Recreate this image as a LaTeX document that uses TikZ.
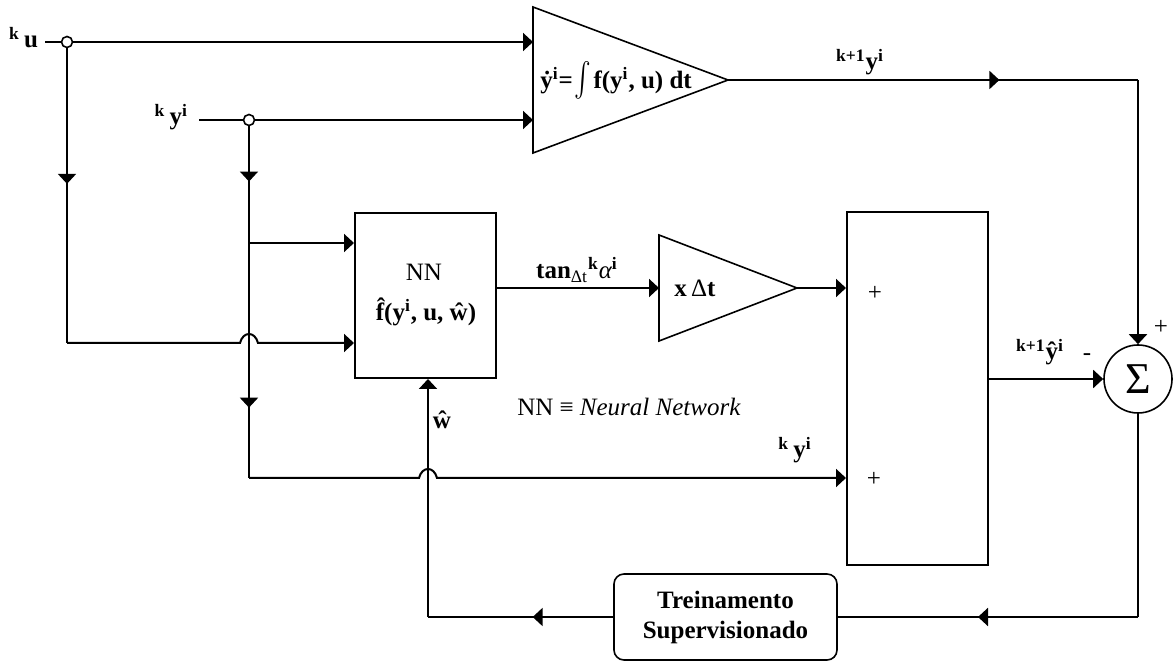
\documentclass[tikz,border=0pt]{standalone}
\usepackage{fontspec}
\usepackage{graphicx}
\setmainfont{Liberation Serif}
\usetikzlibrary{arrows.meta,decorations.markings,calc}
\newcommand\mysup[1]{\textsuperscript{#1}}
\begin{document}
\begin{tikzpicture}[x=0.5pt,y=-0.5pt,line width=1pt,
  >={Triangle[length=5pt,width=9pt]},
  every node/.style={font=\fontsize{12.5}{14}\selectfont, inner sep=0pt},
  lab/.style={font=\fontsize{12.5}{14}\selectfont\bfseries},
  junc/.style={circle, draw, fill=white, minimum size=5.5pt, inner sep=0pt, line width=0.8pt},
  blk/.style={draw, rectangle, inner sep=0pt},
  tri/.style={line width=0.8pt, line join=miter},
  midarr/.style={postaction={decorate,decoration={markings,mark=at position #1 with {\arrow{>}}}}}
]
\useasboundingbox (0,0) rectangle (1173,662);

% junctions and input labels
\node[junc] (cu) at (67,42) {};
\node[junc] (cy) at (249,120) {};
\node[lab, anchor=base east] (lu) at (39,48) {\mysup{k}\,u};
\node[lab, anchor=base east] (ly) at (189,125) {\mysup{k}\,y\mysup{i}};

% blocks
\node[blk, minimum width=70.5pt, minimum height=82.5pt] (NN) at (425.5,295.5) {};
\node[blk, minimum width=70.5pt, minimum height=176.5pt] (SB) at (917.5,388.5) {};
\node[circle, draw, line width=0.8pt, minimum size=34pt, inner sep=0pt] (S) at (1138,379) {\fontsize{22}{22}\selectfont Σ};
\node[draw, line width=0.8pt, rounded corners=5pt, minimum width=111.5pt, minimum height=43pt, align=center, font=\fontsize{12.5}{15}\selectfont\bfseries] (T) at (725.5,617) {Treinamento\\Supervisionado};

% triangles (gains)
\draw[tri] (533,7) -- (728,80) coordinate (ia) -- (533,153) -- cycle;
\draw[tri] (659,235) -- (797,288) coordinate (t2ap) -- (659,341) -- cycle;
\coordinate (i1) at (533,42);
\coordinate (i2) at (533,120);
\coordinate (t2in) at (659,288);

% texts
\node[lab] (fint) at (616,80) {\.{y}\mysup{i}=\kern1pt\raisebox{-1pt}{\scalebox{1.25}[1.7]{$\int$}}\kern1pt f(y\mysup{i}, u) dt};
\node[lab] (yk1) at (860,62) {\mysup{k+1}y\mysup{i}};
\node (nnt) at (424,272) {NN};
\node[lab] (fh) at (426,312) {\^{f}(y\mysup{i}, u, ŵ)};
\node[lab] (tanl) at (577,270) {tan\textsubscript{\normalfont Δt}\mysup{k}{\normalfont\itshape α}\mysup{i}};
\node[lab] (xdt) at (695,288) {x\,{\normalfont Δ}t};
\node (p1) at (875,293) {+};
\node (p2) at (874,479) {+};
\node[lab] (yh) at (1040,352) {\mysup{k+1}ŷ\mysup{i}};
\node (mi) at (1087,357) {-};
\node (p3) at (1161,327) {+};
\node (nnd) at (629,407) {NN ≡ \textit{Neural Network}};
\node[lab] (wh) at (442,420) {ŵ};
\node[lab] (ky2) at (795,450) {\mysup{k}\,y\mysup{i}};

% connectors: u
\draw[shorten <=3pt] (lu.east |- cu) -- (cu);
\draw[->] (cu) -- (i1);
\coordinate (uc) at (67,343);
\draw[midarr=0.46] (cu) -- (uc);
\draw[->] (uc) -- (240,343) .. controls (243,331) and (255,331) .. (258,343) -- (NN.west |- uc);

% connectors: y
\draw[shorten <=5pt] (ly.east |- cy) -- (cy);
\draw[->] (cy) -- (i2);
\coordinate (yb) at (249,243);
\coordinate (yc) at (249,478);
\draw[midarr=0.157, midarr=0.80] (cy) -- (yc);
\draw[->] (yb) -- (NN.west |- yb);
\draw[->] (yc) -- (419,478) .. controls (422,466) and (434,466) .. (437,478) -- (SB.west |- yc);

% integrator output
\coordinate (oc) at (1138,80);
\draw[midarr=0.662] (ia) -- (oc);
\draw[->] (oc) -- (S.north);

% NN path
\draw[->] (NN.east |- t2in) -- (t2in);
\draw[->] (t2ap) -- (SB.west |- t2ap);
\draw[->] (SB.east |- S) -- (S.west);

% feedback
\coordinate (bc) at (1138,617);
\draw (S.south) -- (bc);
\draw[midarr=0.533] (bc) -- (T.east);
\coordinate (wc) at (428,617);
\draw[midarr=0.435] (T.west) -- (wc);
\draw[->] (wc) -- (wc |- NN.south);
\end{tikzpicture}
\end{document}
